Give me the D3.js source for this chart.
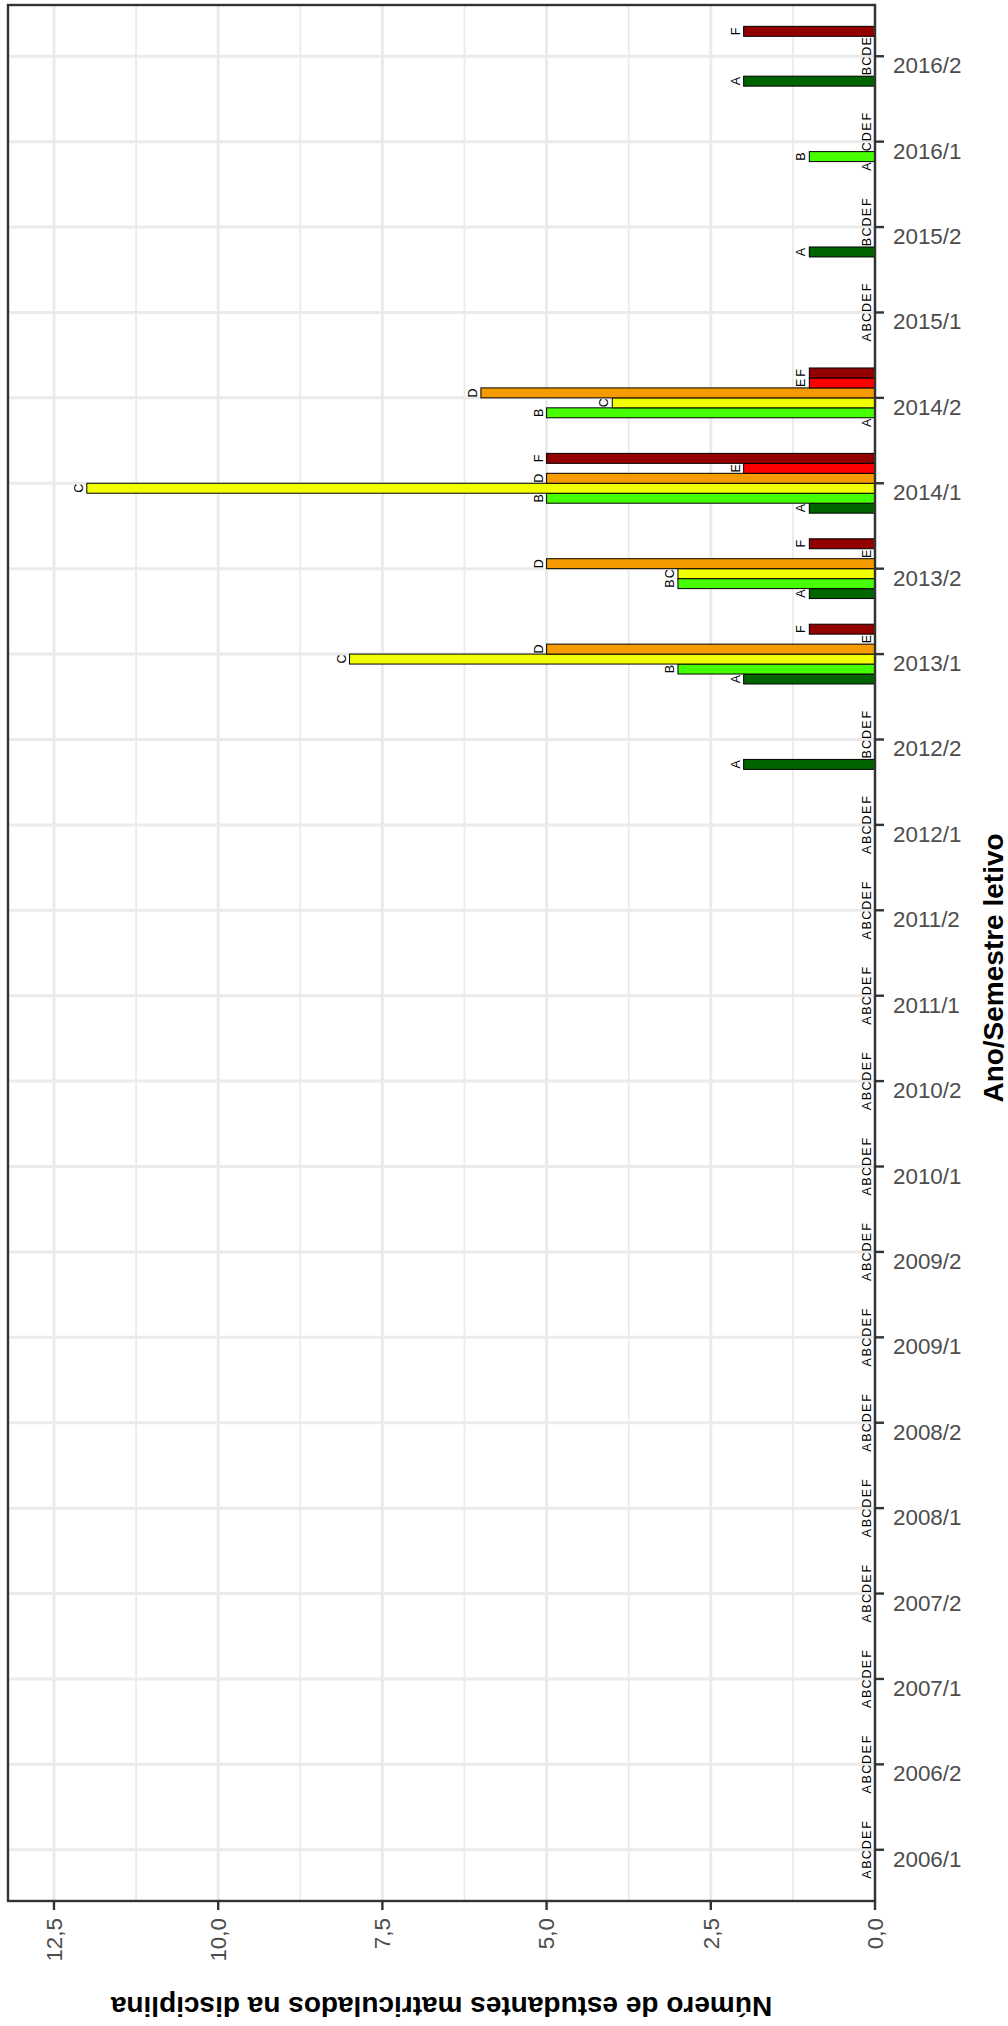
<!DOCTYPE html>
<html>
<head>
<meta charset="utf-8">
<script src="https://cdn.jsdelivr.net/npm/d3@7"></script>
<style>
  html, body { margin: 0; padding: 0; background: #ffffff; }
  svg { display: block; }
  text { font-family: "Liberation Sans", Arial, Helvetica, sans-serif; }
</style>
</head>
<body>
<svg id="chart" width="1008" height="2026"></svg>
<script>
// ---- data ----
const semesters = ["2006/1","2006/2","2007/1","2007/2","2008/1","2008/2","2009/1","2009/2",
  "2010/1","2010/2","2011/1","2011/2","2012/1","2012/2","2013/1","2013/2","2014/1","2014/2",
  "2015/1","2015/2","2016/1","2016/2"];
const groups = ["A","B","C","D","E","F"];
const valuesA = [0,0,0,0,0,0,0,0,0,0,0,0,0,2,2,1,1,0,0,1,0,2];
const valuesB = [0,0,0,0,0,0,0,0,0,0,0,0,0,0,3,3,5,5,0,0,1,0];
const valuesC = [0,0,0,0,0,0,0,0,0,0,0,0,0,0,8,3,12,4,0,0,0,0];
const valuesD = [0,0,0,0,0,0,0,0,0,0,0,0,0,0,5,5,5,6,0,0,0,0];
const valuesE = [0,0,0,0,0,0,0,0,0,0,0,0,0,0,0,0,2,1,0,0,0,0];
const valuesF = [0,0,0,0,0,0,0,0,0,0,0,0,0,0,1,1,5,1,0,0,0,2];
const colors = ["#006400","#46FF00","#F2FF00","#F59B00","#FF0000","#930000"];
const valueTicks = [0, 2.5, 5, 7.5, 10, 12.5];
const minorTicks = [1.25, 3.75, 6.25, 8.75, 11.25];
const xTitle = "Número de estudantes matriculados na disciplina";
const yTitle = "Ano/Semestre letivo";

const seriesValues = [valuesA, valuesB, valuesC, valuesD, valuesE, valuesF];
const data = [];
semesters.forEach((s, i) => {
  groups.forEach((g, k) => data.push({ sem: s, grp: g, val: seriesValues[k][i], color: colors[k] }));
});

// ---- layout ----
const panel = { left: 8, right: 875, top: 5, bottom: 1901 };
const svg = d3.select("#chart");

const x = d3.scaleLinear().domain([0, 13.2]).range([panel.right, panel.left]);
const y = d3.scalePoint().domain(semesters).range([panel.bottom, panel.top]).padding(0.6);
const step = y.step();
const sub = d3.scaleBand().domain(groups).range([0.35 * step, -0.35 * step]).paddingInner(0).paddingOuter(0);

const fmt = v => d3.format(".1f")(v).replace(".", ",");

// panel background
svg.append("rect").attr("x", panel.left).attr("y", panel.top)
  .attr("width", panel.right - panel.left).attr("height", panel.bottom - panel.top)
  .attr("fill", "#ffffff");

const grid = svg.append("g");
// minor vertical grid
grid.selectAll("line.minor").data(minorTicks).join("line")
  .attr("x1", d => x(d)).attr("x2", d => x(d))
  .attr("y1", panel.top).attr("y2", panel.bottom)
  .attr("stroke", "#EBEBEB").attr("stroke-width", 1.8);
// major vertical grid
grid.selectAll("line.majorv").data(valueTicks).join("line")
  .attr("x1", d => x(d)).attr("x2", d => x(d))
  .attr("y1", panel.top).attr("y2", panel.bottom)
  .attr("stroke", "#EBEBEB").attr("stroke-width", 3);
// horizontal grid at semesters
grid.append("g").selectAll("line").data(semesters).join("line")
  .attr("x1", panel.left).attr("x2", panel.right)
  .attr("y1", d => y(d)).attr("y2", d => y(d))
  .attr("stroke", "#EBEBEB").attr("stroke-width", 3);

// bars
svg.append("g").selectAll("rect").data(data.filter(d => d.val > 0)).join("rect")
  .attr("x", d => x(d.val))
  .attr("y", d => y(d.sem) + sub(d.grp))
  .attr("width", d => x(0) - x(d.val))
  .attr("height", sub.bandwidth())
  .attr("fill", d => d.color)
  .attr("stroke", "#000000").attr("stroke-width", 1);

// bar labels
svg.append("g").selectAll("text").data(data).join("text")
  .attr("transform", d => `translate(${x(d.val) - 4},${y(d.sem) + sub(d.grp) + sub.bandwidth() / 2}) rotate(-90)`)
  .attr("text-anchor", "middle")
  .attr("font-size", 12.5)
  .attr("fill", "#000000")
  .text(d => d.grp);

// panel border
svg.append("rect").attr("x", panel.left).attr("y", panel.top)
  .attr("width", panel.right - panel.left).attr("height", panel.bottom - panel.top)
  .attr("fill", "none").attr("stroke", "#333333").attr("stroke-width", 2.4);

// bottom value axis (ticks + rotated labels)
const bAxis = svg.append("g");
bAxis.selectAll("line").data(valueTicks).join("line")
  .attr("x1", d => x(d)).attr("x2", d => x(d))
  .attr("y1", panel.bottom).attr("y2", panel.bottom + 9)
  .attr("stroke", "#333333").attr("stroke-width", 2.4);
bAxis.selectAll("text").data(valueTicks).join("text")
  .attr("transform", d => `translate(${x(d)},${panel.bottom + 17}) rotate(-90)`)
  .attr("text-anchor", "end")
  .attr("dy", "0.35em")
  .attr("font-size", 22.4)
  .attr("fill", "#4D4D4D")
  .text(d => fmt(d));

// right category axis
const rAxis = svg.append("g");
rAxis.selectAll("line").data(semesters).join("line")
  .attr("x1", panel.right).attr("x2", panel.right + 9)
  .attr("y1", d => y(d)).attr("y2", d => y(d))
  .attr("stroke", "#333333").attr("stroke-width", 2.4);
rAxis.selectAll("text").data(semesters).join("text")
  .attr("x", panel.right + 18)
  .attr("y", d => y(d) + 17)
  .attr("font-size", 22.4)
  .attr("fill", "#4D4D4D")
  .text(d => d);

// axis titles
svg.append("text")
  .attr("transform", `translate(${(panel.left + panel.right) / 2},1997) rotate(180)`)
  .attr("text-anchor", "middle")
  .attr("font-size", 28)
  .attr("font-weight", "bold")
  .attr("fill", "#000000")
  .text(xTitle);

svg.append("text")
  .attr("transform", `translate(1003,968) rotate(-90)`)
  .attr("text-anchor", "middle")
  .attr("font-size", 28)
  .attr("font-weight", "bold")
  .attr("fill", "#000000")
  .text(yTitle);
</script>
</body>
</html>
